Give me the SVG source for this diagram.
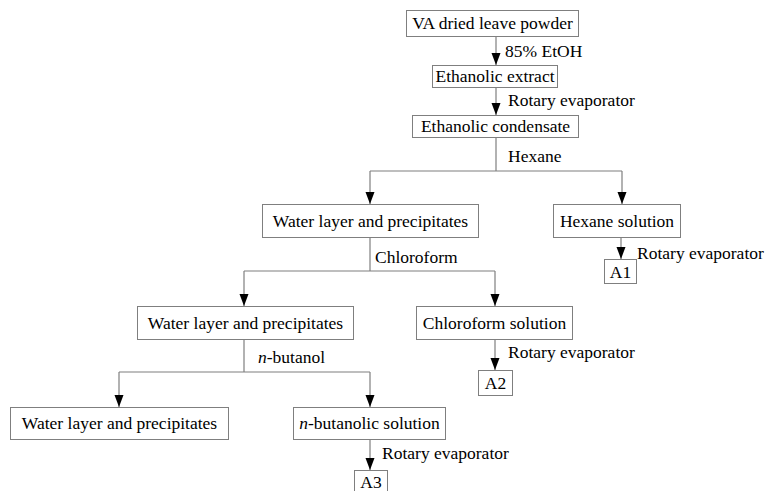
<svg xmlns="http://www.w3.org/2000/svg" width="765" height="491" viewBox="0 0 765 491">
<style>
.box{fill:#fff;stroke:#7f7f7f;stroke-width:1}
.t{font-family:"Liberation Serif","Times New Roman",serif;font-size:17.5px;fill:#000}
.c{text-anchor:middle}
.ln{fill:none;stroke:#7f7f7f;stroke-width:1.2}
</style>
<defs>
<marker id="ah" markerUnits="userSpaceOnUse" markerWidth="12" markerHeight="10" refX="12" refY="4.5" orient="auto" viewBox="0 0 12 9">
<path d="M0,0 L12,4.5 L0,9 z" fill="#000"/>
</marker>
</defs>
<rect width="765" height="491" fill="#fff"/>
<g id="connectors">
<path class="ln" d="M496,37 V65" marker-end="url(#ah)"/>
<path class="ln" d="M496,88 V115" marker-end="url(#ah)"/>
<path class="ln" d="M496,137 V171"/>
<path class="ln" d="M370,171 H622"/>
<path class="ln" d="M370,171 V204" marker-end="url(#ah)"/>
<path class="ln" d="M622,171 V204" marker-end="url(#ah)"/>
<path class="ln" d="M370,238 V271"/>
<path class="ln" d="M244,271 H495"/>
<path class="ln" d="M244,271 V306" marker-end="url(#ah)"/>
<path class="ln" d="M495,271 V306" marker-end="url(#ah)"/>
<path class="ln" d="M621,238 V259" marker-end="url(#ah)"/>
<path class="ln" d="M495,339 V370" marker-end="url(#ah)"/>
<path class="ln" d="M244,339 V372"/>
<path class="ln" d="M119,372 H370"/>
<path class="ln" d="M119,372 V407" marker-end="url(#ah)"/>
<path class="ln" d="M370,372 V407" marker-end="url(#ah)"/>
<path class="ln" d="M370,439 V470" marker-end="url(#ah)"/>
<text class="t" x="505" y="57">85% EtOH</text>
<text class="t" x="508" y="106">Rotary evaporator</text>
<text class="t" x="508" y="162">Hexane</text>
<text class="t" x="375" y="263">Chloroform</text>
<text class="t" x="637" y="259">Rotary evaporator</text>
<text class="t" x="258" y="363"><tspan font-style="italic">n</tspan>-butanol</text>
<text class="t" x="508" y="358">Rotary evaporator</text>
<text class="t" x="382" y="459">Rotary evaporator</text>
</g>
<g id="n1"><rect class="box" x="406.5" y="10.5" width="172" height="26"/><text class="t c" x="492.5" y="29">VA dried leave powder</text></g>
<g id="n2"><rect class="box" x="432.5" y="65.5" width="125" height="22"/><text class="t c" x="495" y="82">Ethanolic extract</text></g>
<g id="n3"><rect class="box" x="412.5" y="115.5" width="166" height="22"/><text class="t c" x="495.5" y="132">Ethanolic condensate</text></g>
<g id="n4"><rect class="box" x="262.5" y="204.5" width="216" height="33"/><text class="t c" x="370.5" y="227">Water layer and precipitates</text></g>
<g id="n5"><rect class="box" x="553.5" y="204.5" width="127" height="33"/><text class="t c" x="617" y="227">Hexane solution</text></g>
<g id="n6"><rect class="box" x="604.5" y="259.5" width="32" height="24"/><text class="t c" x="620.5" y="278">A1</text></g>
<g id="n7"><rect class="box" x="137.5" y="306.5" width="216" height="33"/><text class="t c" x="245.5" y="329">Water layer and precipitates</text></g>
<g id="n8"><rect class="box" x="416.5" y="306.5" width="156" height="33"/><text class="t c" x="494.5" y="329">Chloroform solution</text></g>
<g id="n9"><rect class="box" x="478.5" y="370.5" width="34" height="25"/><text class="t c" x="495.5" y="389">A2</text></g>
<g id="n10"><rect class="box" x="10.5" y="407.5" width="218" height="32"/><text class="t c" x="119.5" y="429">Water layer and precipitates</text></g>
<g id="n11"><rect class="box" x="293.5" y="407.5" width="152" height="32"/><text class="t c" x="369.5" y="429"><tspan font-style="italic">n</tspan>-butanolic solution</text></g>
<g id="n12"><rect class="box" x="354.5" y="470.5" width="33" height="25"/><text class="t c" x="371" y="488">A3</text></g>
</svg>
